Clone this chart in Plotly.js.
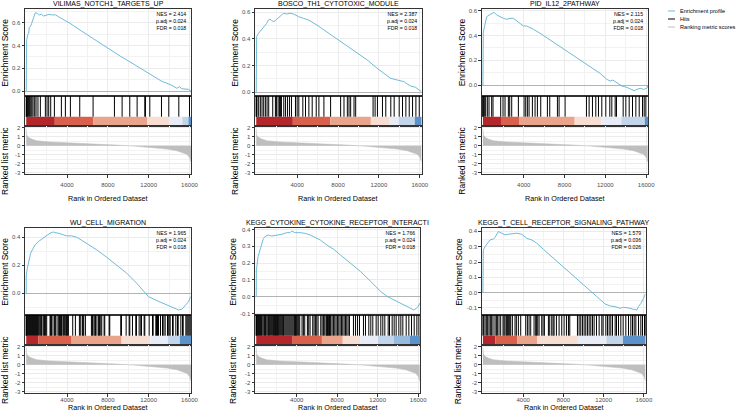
<!DOCTYPE html>
<html><head><meta charset="utf-8">
<script src="https://cdn.plot.ly/plotly-3.0.1.min.js"></script>
<style>html,body{margin:0;padding:0;background:#fff;} #chart{width:739px;height:411px;}</style>
</head><body><div id="chart"></div>
<script>
// ================= DATA =================
const titles = ['VILIMAS_NOTCH1_TARGETS_UP','BOSCO_TH1_CYTOTOXIC_MODULE','PID_IL12_2PATHWAY',
  'WU_CELL_MIGRATION','KEGG_CYTOKINE_CYTOKINE_RECEPTOR_INTERACTI','KEGG_T_CELL_RECEPTOR_SIGNALING_PATHWAY'];
const nes  = ['2.414','2.387','2.115','1.965','1.766','1.579'];
const padj = ['0.024','0.024','0.024','0.024','0.024','0.036'];
const fdr  = ['0.018','0.018','0.018','0.018','0.018','0.026'];

// running enrichment score (rank, ES)
const es1X = [1,5,15,44,142,240,305,436,534,633,763,894,1091,1287,1483,1679,1941,2203,2595,2857,3151,3642,4296,5277,6586,7894,9203,10511,11492,12147,12801,13291,13782,14273,14763,15025,15254,15581,15908,16136];
const es1Y = [0,0.214,0.405,0.449,0.493,0.508,0.561,0.573,0.596,0.626,0.67,0.69,0.684,0.67,0.678,0.661,0.667,0.675,0.67,0.672,0.655,0.631,0.596,0.537,0.458,0.382,0.308,0.238,0.185,0.15,0.109,0.085,0.068,0.05,0.024,0.038,0.02,0.015,0.015,0.0];
const es2X = [1,40,207,371,534,698,861,1025,1188,1352,1516,1744,2006,2333,2660,2988,3314,3641,4132,4623,5113,5932,7567,9202,10838,11819,12473,13128,13782,14436,14763,15090,15581,15908,16150];
const es2Y = [0,0.417,0.44,0.455,0.47,0.48,0.497,0.517,0.542,0.549,0.536,0.53,0.547,0.572,0.592,0.587,0.592,0.587,0.567,0.554,0.542,0.504,0.417,0.33,0.243,0.18,0.142,0.105,0.092,0.08,0.062,0.047,0.037,0.022,0.005];
const es3X = [1,37,370,694,1087,1349,1676,2003,2330,2657,2984,3311,3802,3965,4293,4620,4947,5601,6582,7564,8545,9526,10507,11489,12143,12470,12732,13125,13615,14106,14597,14825,15087,15414,15741,16068,16150];
const es3Y = [0,0.43,0.553,0.567,0.589,0.567,0.553,0.54,0.532,0.54,0.54,0.521,0.486,0.478,0.478,0.467,0.451,0.419,0.364,0.31,0.256,0.202,0.148,0.094,0.046,0.032,0.04,0.019,-0.008,-0.019,-0.035,-0.046,-0.035,-0.027,-0.035,-0.027,-0.008];
const es4X = [1,5,109,273,436,600,861,1188,1516,1679,2006,2333,2660,2824,3151,3641,3969,4460,4950,5277,5932,6913,7894,8875,9857,10838,11492,11983,12801,13782,14436,14927,15254,15581,15908,16071,16150];
const es4Y = [0,0.131,0.179,0.226,0.286,0.31,0.345,0.369,0.386,0.4,0.417,0.429,0.438,0.433,0.429,0.417,0.41,0.41,0.4,0.386,0.357,0.31,0.257,0.202,0.143,0.071,0.012,-0.024,-0.052,-0.083,-0.107,-0.119,-0.114,-0.083,-0.06,-0.029,-0.024];
const es5X = [1,17,182,349,515,681,847,1179,1512,2011,2509,3008,3340,3506,3838,4337,4835,5334,5832,6331,6996,7660,8324,9321,10319,11316,12313,12978,13642,14307,14972,15304,15570,15802,15968,16150];
const es5Y = [0,0.159,0.238,0.278,0.318,0.341,0.357,0.367,0.361,0.365,0.371,0.381,0.381,0.391,0.381,0.381,0.377,0.367,0.353,0.337,0.307,0.282,0.248,0.199,0.149,0.09,0.03,0,-0.02,-0.043,-0.059,-0.069,-0.079,-0.069,-0.063,-0.039];
const es6X = [1,39,208,437,706,1034,1203,1532,1870,2198,2527,3024,3363,3860,4358,4855,5353,6009,7004,7999,8994,9989,10656,11323,12148,12646,13143,13641,13969,14467,14964,15303,15462,15701,15959,16150];
const es6Y = [0,0.279,0.3,0.323,0.344,0.35,0.36,0.399,0.388,0.377,0.381,0.384,0.388,0.381,0.355,0.344,0.323,0.283,0.224,0.17,0.109,0.05,0.013,-0.026,-0.074,-0.087,-0.091,-0.102,-0.096,-0.1,-0.109,-0.113,-0.091,-0.07,-0.037,-0.009];

// hit positions (rank)
const hits1 = [5,20,45,90,150,240,300,380,470,560,670,830,960,1150,1386,1877,2040,2204,2400,2760,3447,3839,4330,5245,6553,8646,9398,10150,10870,11622,11687,12113,13256,13976,14957,16003];
const hits2 = [1,10,30,76,240,403,567,731,894,1058,1221,1614,1875,1973,2137,2268,2366,2464,2693,2857,3053,3249,3445,3838,4001,4165,4558,4819,5147,5473,5866,6128,6619,7272,8253,8581,8908,9072,9235,9563,9725,11427,11623,11852,12343,12669,13160,13488,13979,14305,14632,14960,15286,15613,15941];
const hits3 = [1,8,25,138,269,433,596,858,989,1741,1970,2166,2493,2625,2821,3475,4031,4195,4358,4522,4848,5110,5339,5667,6320,6550,7302,7465,8054,10147,10409,10736,11064,11325,11652,12045,12438,12634,12961,13091,13746,14008,14335,14661,14989,15316,15643,15807,15970];
const hits4 = [1,10,30,77,142,207,273,338,404,469,535,600,665,731,796,862,927,993,1058,1123,1189,1320,1418,1483,1549,1712,1778,1843,1908,2007,2334,2399,2464,2530,2726,2792,2857,3021,3184,3250,3315,3380,3446,3511,3642,3740,3871,3936,4002,4067,4133,4558,4820,5212,5343,5507,5572,5637,5801,6390,6488,6553,6717,6782,6848,7044,7109,7175,7306,7404,7633,7698,8123,8189,9268,9334,9792,10086,10152,10413,10740,10806,11067,11231,11296,11558,11623,12049,12376,12441,12703,12768,12866,12964,13161,13357,13488,13619,13848,13913,14011,14109,14338,14404,14665,14829,14894,15156,15320,15385,15647,15745,15843,15941,16039,16137];
const hits5 = [1,5,45,111,176,242,308,374,440,506,572,671,770,836,902,968,1067,1166,1232,1297,1396,1495,1594,1693,1759,1825,1891,1957,2023,2089,2155,2221,2320,2418,2517,2616,2682,2748,2847,2946,3045,3144,3243,3342,3440,3539,3638,3737,3803,3869,3935,4001,4100,4199,4298,4529,4660,4792,5056,5188,5320,5584,5715,5847,5979,6111,6375,6507,6639,6770,6902,6968,7034,7100,7166,7232,7298,7364,7496,7628,7760,7891,8023,8155,8287,8419,8551,8683,8815,8946,9078,9210,9606,9804,10002,10199,10595,10793,11123,11320,11518,11848,12046,12309,12507,12705,13035,13167,13430,13628,13826,14090,14288,14485,14815,15079,15343,15606,15870,16068];
const hits6 = [1,75,208,341,473,606,739,871,1004,1203,1336,1435,1601,1767,1999,2099,2198,2331,2430,2530,2663,2762,2928,3193,3326,3525,3757,4255,4421,4587,4752,5084,5250,5316,5449,5582,5847,5980,6112,6510,6643,6842,6975,7074,7306,7572,7837,8069,8302,8501,8633,9396,9562,9728,9894,10060,10225,10391,10557,10723,10889,11055,11287,11552,11818,11950,12216,12381,12547,12713,12879,13144,13277,13476,13708,13940,14206,14471,14703,14869,15035,15201,15466,15698,15864,16063,16150];

// colour strip segments (rank edges) and colours
const bar1Edges = [1,2800,6560,11840,14050,15300,15900,16180];
const bar2Edges = [1,3580,7250,11210,13050,13950,15500,16180];
const bar3Edges = [1,1770,3590,8990,11610,13570,15860,16180];
const bar4Edges = [1,1200,4450,9350,12160,13880,15060,16180];
const bar5Edges = [1,3600,6490,8550,10280,12010,13580,15150,16180];
const bar6Edges = [1,1250,3400,5380,9440,12270,13920,16180];
const bar7Colors = ['#B5262B','#D9604B','#EAA48C','#F8DED2','#E8ECF6','#C2D5EA','#5B92C9'];
const bar8Colors = ['#B5262B','#D9604B','#EAA48C','#F8DED2','#E8ECF6','#C2D5EA','#98BADD','#5B92C9'];

// ranked list metric (shared)
const rankX = [1,10,44,207,534,1025,2334,3969,5605,7240,8876,10511,12147,13782,14763,15418,15745,16007,16150];
const rankY = [1.9,1.5,1.2,0.93,0.74,0.56,0.41,0.33,0.26,0.19,0.07,-0.04,-0.19,-0.37,-0.56,-0.78,-0.96,-1.3,-1.8];

// ticks
const xTickVals = [4000,8000,12000,16000];
const xTickText = ['4000','8000','12000','16000'];
const xMinorVals = [2000,6000,10000,14000];
const esTickValsA = [0,0.2,0.4,0.6];  const esTickTextA = ['0.0','0.2','0.4','0.6'];
const esTickValsB = [0,0.2,0.4];      const esTickTextB = ['0.0','0.2','0.4'];
const esTickValsC = [-0.1,0,0.1,0.2,0.3,0.4]; const esTickTextC = ['-0.1','0.0','0.1','0.2','0.3','0.4'];
const rankTickVals = [-3,-2,-1,0,1,2]; const rankTickText = ['-3','-2','-1','0','1','2'];
const legendLabels = ['Enrichment profile','Hits','Ranking metric scores'];

// ================= LAYOUT / STYLE =================
const W = 739, H = 411;
const FONT = 'Liberation Sans, Arial, Helvetica, sans-serif';
const ES_COLOR = '#6DBBD8', RANK_COLOR = '#BEBEBE';
const GRID = '#EBEBEB', GRID_MINOR = '#F2F2F2', LINE = '#333333';
const X_RANGE = [-120, 16180];
const COLORBAR_TOP = 0.31;
const ROW_OFF = [0, 219];
const ES_TOP = 9.3, ES_BOT = 96, HIT_BOT = 126, RANK_BOT = 174;
const PANEL_L = [25, 255, 481.7, 25, 255, 481.7];
const PANEL_R = [191.3, 421.7, 648, 191.3, 420, 645.7];
const YTITLE_OFF = [20, 20, 20, 20, 22, 23.5];
const XTITLE_Y = [198, 407];
const RTITLE_Y = [161, 370];
const TICK_STANDOFF = [2, -2];

const esX = [es1X, es2X, es3X, es4X, es5X, es6X];
const esY = [es1Y, es2Y, es3Y, es4Y, es5Y, es6Y];
const hits = [hits1, hits2, hits3, hits4, hits5, hits6];
const barEdges = [bar1Edges, bar2Edges, bar3Edges, bar4Edges, bar5Edges, bar6Edges];
const barColors = [bar7Colors, bar7Colors, bar7Colors, bar7Colors, bar8Colors, bar7Colors];
const esRanges = [[-0.044,0.72],[-0.028,0.622],[-0.089,0.613],[-0.155,0.464],[-0.109,0.407],[-0.146,0.42]];
const esTicks = [[esTickValsA,esTickTextA,0.1],[esTickValsA,esTickTextA,0.1],[esTickValsA,esTickTextA,0.1],
                 [esTickValsB,esTickTextB,0.1],[esTickValsC,esTickTextC,0.05],[esTickValsC,esTickTextC,0.05]];

const data = [];
const layout = {
  width: W, height: H, margin: {l:0, r:0, t:0, b:0},
  paper_bgcolor: '#ffffff', plot_bgcolor: '#ffffff',
  showlegend: false, hovermode: false, barmode: 'overlay',
  font: {family: FONT, size: 6, color: '#4D4D4D'},
  annotations: [], shapes: []
};
const sfx = k => (k === 1 ? '' : String(k));
const tickFont = {family: FONT, size: 6, color: '#4D4D4D'};

for (let p = 0; p < 6; p++) {
  const row = p < 3 ? 0 : 1, off = ROW_OFF[row];
  const kE = p*3+1, kH = p*3+2, kR = p*3+3;
  const xd = [PANEL_L[p]/W, PANEL_R[p]/W];
  const dom = (a, b) => [1-(b+off)/H, 1-(a+off)/H];

  // traces
  data.push({type:'scatter', mode:'lines', x: esX[p], y: esY[p], xaxis:'x'+sfx(kE), yaxis:'y'+sfx(kE),
    line:{color: ES_COLOR, width: 1}, hoverinfo:'skip'});
  const hx = [], hy = [];
  hits[p].forEach(h => { hx.push(h, h, null); hy.push(COLORBAR_TOP, 1, null); });
  data.push({type:'scatter', mode:'lines', x: hx, y: hy, xaxis:'x'+sfx(kH), yaxis:'y'+sfx(kH),
    line:{color:'#000000', width: 1}, hoverinfo:'skip'});
  const e = barEdges[p], mids = [], widths = [], hs = [];
  for (let i = 0; i < e.length-1; i++) { mids.push((e[i]+e[i+1])/2); widths.push(e[i+1]-e[i]); hs.push(COLORBAR_TOP); }
  data.push({type:'bar', x: mids, y: hs, width: widths, base: 0, xaxis:'x'+sfx(kH), yaxis:'y'+sfx(kH),
    marker:{color: barColors[p], line:{width:0}}, hoverinfo:'skip'});
  data.push({type:'scatter', mode:'lines', x: rankX, y: rankY, fill:'tozeroy', fillcolor: RANK_COLOR,
    xaxis:'x'+sfx(kR), yaxis:'y'+sfx(kR), line:{color: RANK_COLOR, width: 0.5}, hoverinfo:'skip'});

  const baseX = {range: X_RANGE, domain: xd, showline:true, mirror:true, linecolor:LINE, linewidth:1,
    zeroline:false, tickvals: xTickVals, ticktext: xTickText, fixedrange:true, tickfont: tickFont};
  layout['xaxis'+sfx(kE)] = Object.assign({}, baseX, {anchor:'y'+sfx(kE), showticklabels:false, ticks:'',
    showgrid:true, gridcolor:GRID, gridwidth:1,
    minor:{tickvals: xMinorVals, showgrid:true, gridcolor:GRID_MINOR, gridwidth:0.6, ticks:''}});
  layout['xaxis'+sfx(kH)] = Object.assign({}, baseX, {anchor:'y'+sfx(kH), showticklabels:false, ticks:'', showgrid:false});
  layout['xaxis'+sfx(kR)] = Object.assign({}, baseX, {anchor:'y'+sfx(kR), showticklabels:true, ticks:'outside',
    ticklen:2.5, tickwidth:0.8, tickcolor:LINE, ticklabelstandoff: TICK_STANDOFF[row],
    showgrid:true, gridcolor:GRID, gridwidth:1,
    minor:{tickvals: xMinorVals, showgrid:true, gridcolor:GRID_MINOR, gridwidth:0.6, ticks:''}});

  const et = esTicks[p];
  layout['yaxis'+sfx(kE)] = {domain: dom(ES_TOP, ES_BOT), anchor:'x'+sfx(kE), range: esRanges[p],
    tickvals: et[0], ticktext: et[1], ticks:'outside', ticklen:2.5, tickwidth:0.8, tickcolor:LINE, tickfont: tickFont,
    showline:true, mirror:true, linecolor:LINE, linewidth:1, fixedrange:true,
    showgrid:true, gridcolor:GRID, gridwidth:1,
    minor:{tickmode:'linear', tick0:0, dtick: et[2], showgrid:true, gridcolor:GRID_MINOR, gridwidth:0.6, ticks:''},
    zeroline:true, zerolinecolor:'#B3B3B3', zerolinewidth:1.3};
  layout['yaxis'+sfx(kH)] = {domain: dom(ES_BOT, HIT_BOT), anchor:'x'+sfx(kH), range:[0,1],
    showticklabels:false, ticks:'', showgrid:false, zeroline:false,
    showline:true, mirror:true, linecolor:LINE, linewidth:1, fixedrange:true};
  layout['yaxis'+sfx(kR)] = {domain: dom(HIT_BOT, RANK_BOT), anchor:'x'+sfx(kR), range:[-3.14, 2.19],
    tickvals: rankTickVals, ticktext: rankTickText, ticks:'outside', ticklen:2.5, tickwidth:0.8, tickcolor:LINE, tickfont: tickFont,
    showline:true, mirror:true, linecolor:LINE, linewidth:1, fixedrange:true,
    showgrid:true, gridcolor:GRID, gridwidth:1,
    minor:{tickmode:'linear', tick0:0, dtick:0.5, showgrid:true, gridcolor:GRID_MINOR, gridwidth:0.6, ticks:''},
    zeroline:false};

  const cx = (PANEL_L[p]+PANEL_R[p])/2;
  // panel title
  layout.annotations.push({text: titles[p], xref:'paper', yref:'paper', x: cx/W, y: 1-(4+off)/H,
    xanchor:'center', yanchor:'middle', showarrow:false, font:{family:FONT, size:7, color:'#000000'}});
  // stats
  layout.annotations.push({text: 'NES = '+nes[p]+'<br>p.adj = '+padj[p]+'<br>FDR = '+fdr[p],
    xref:'paper', yref:'paper', x:(PANEL_R[p]-3)/W, y: 1-(20.7+off)/H, xanchor:'right', yanchor:'middle',
    align:'right', showarrow:false, font:{family:FONT, size:5.2, color:'#000000'}});
  // y titles
  layout.annotations.push({text:'Enrichment Score', xref:'paper', yref:'paper',
    x:(PANEL_L[p]-YTITLE_OFF[p])/W, y: 1-((ES_TOP+ES_BOT)/2+off)/H, textangle:-90,
    xanchor:'center', yanchor:'middle', showarrow:false, font:{family:FONT, size:8.5, color:'#000000'}});
  layout.annotations.push({text:'Ranked list metric', xref:'paper', yref:'paper',
    x:(PANEL_L[p]-YTITLE_OFF[p])/W, y: 1-RTITLE_Y[row]/H, textangle:-90,
    xanchor:'center', yanchor:'middle', showarrow:false, font:{family:FONT, size:8.5, color:'#000000'}});
  // x title
  layout.annotations.push({text:'Rank in Ordered Dataset', xref:'paper', yref:'paper',
    x: cx/W, y: 1-XTITLE_Y[row]/H, xanchor:'center', yanchor:'middle', showarrow:false,
    font:{family:FONT, size:7.2, color:'#000000'}});
}

// legend (top right)
const legColors = [ES_COLOR, '#000000', RANK_COLOR];
const legY = [11, 19, 27];
legendLabels.forEach((lab, i) => {
  layout.shapes.push({type:'line', xref:'paper', yref:'paper', x0: 668/W, x1: 675/W,
    y0: 1-legY[i]/H, y1: 1-legY[i]/H, line:{color: legColors[i], width: 1}});
  layout.annotations.push({text: lab, xref:'paper', yref:'paper', x: 678/W, y: 1-legY[i]/H,
    xanchor:'left', yanchor:'middle', showarrow:false, font:{family:FONT, size:5.6, color:'#000000'}});
});

Plotly.newPlot('chart', data, layout, {displayModeBar:false, responsive:false});
</script>
</body></html>
